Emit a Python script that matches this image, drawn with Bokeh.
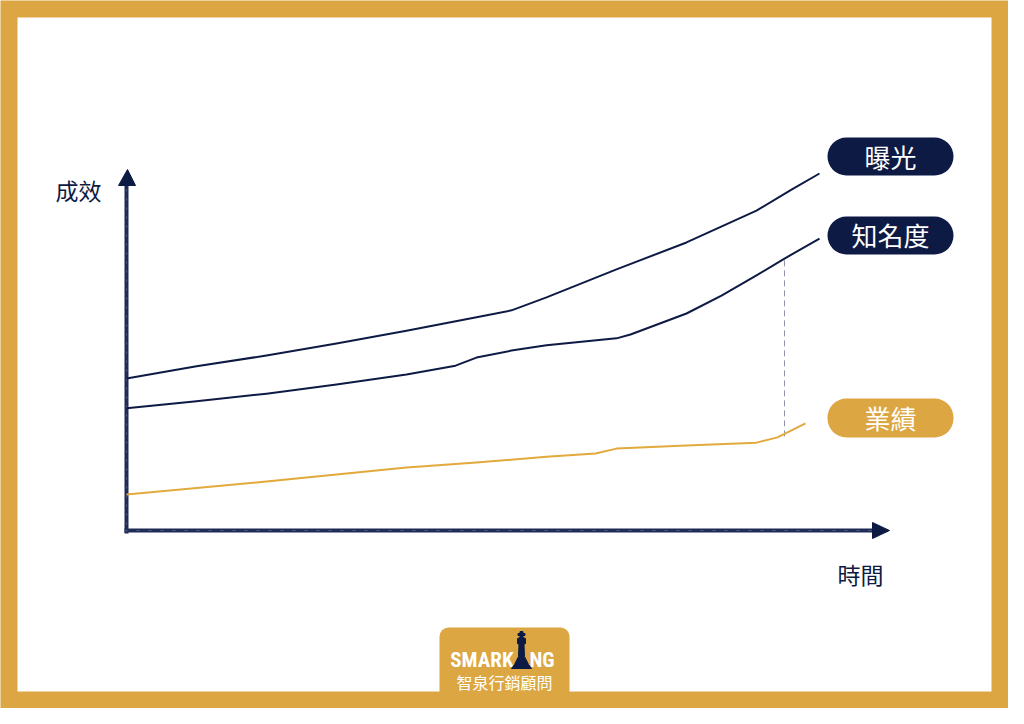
from bokeh.plotting import figure
from bokeh.models import Range1d, BoxAnnotation
from bokeh.core.properties import value
from bokeh.embed import file_html
from bokeh.resources import INLINE

# ---------------- data (time units, effect units) ----------------
series_names = ["曝光", "知名度", "業績"]

exposure_t = [0, 10, 20, 30, 40, 50, 55, 60, 70, 80, 90, 95, 99]
exposure_v = [43.4, 46.9, 50.0, 53.4, 57.1, 60.9, 62.9, 66.6, 74.6, 82.3, 91.4, 97.4, 102.0]

awareness_t = [0, 10, 20, 30, 40, 47, 50, 55, 60, 70, 72, 80, 85, 90, 94, 99]
awareness_v = [34.9, 36.9, 39.1, 41.7, 44.6, 47.1, 49.4, 51.4, 52.9, 54.9, 56.0, 62.0, 67.1, 72.9, 77.7, 83.4]

sales_t = [0, 20, 40, 50, 60, 67, 70, 80, 90, 93, 95, 97]
sales_v = [10.3, 14.0, 18.0, 19.4, 21.1, 22.0, 23.4, 24.3, 25.1, 26.6, 28.6, 30.6]

marker_t = 94.0          # dashed guide position
marker_range = [26.9, 78.0]

x_label = "時間"
y_label = "成效"
brand = "SMARK"
brand_tail = "NG"
brand_cn = "智泉行銷顧問"

# ---------------- layout helpers (image pixel -> data units) ----------------
OX, OY, SX, SY = 134.0, 538.0, 7.0, 3.5
def px(p):
    return (p - OX) / SX
def py(p):
    return (OY - p) / SY

NAVY = "#0d1a44"
AXIS = "#1f2c58"
GOLD = "#dca643"
LINEGOLD = "#e2a93c"
CJK = value("Noto Sans CJK TC")

W, H = 1008, 708
p = figure(width=W, height=H, output_backend="svg", toolbar_location=None,
           x_range=Range1d(px(8), px(8 + W)), y_range=Range1d(py(8 + H), py(8)),
           min_border=0, min_border_left=0, min_border_right=0,
           min_border_top=0, min_border_bottom=0)
p.axis.visible = False
p.grid.visible = False
p.outline_line_color = None
p.background_fill_color = GOLD
p.border_fill_color = GOLD

# white sheet
p.add_layout(BoxAnnotation(left=px(25), right=px(999), top=py(25), bottom=py(699),
                           fill_color="white", fill_alpha=1, line_color=None, level="underlay"))

# logo tab
p.add_layout(BoxAnnotation(left=px(447), right=px(577), top=py(635), bottom=py(705),
                           fill_color=GOLD, fill_alpha=1, line_color=None,
                           border_radius=(9, 9, 0, 0), level="underlay"))

# pill backgrounds
pills = [(145, 183, NAVY, 164), (224, 262, NAVY, 242), (406, 445, GOLD, 425)]
for top, bot, col, cy in pills:
    p.add_layout(BoxAnnotation(left=px(835), right=px(961), top=py(top), bottom=py(bot),
                               fill_color=col, fill_alpha=1, line_color=None,
                               border_radius=19, level="underlay"))

# ---------------- axes (hand-drawn look) ----------------
p.line([px(134), px(134)], [py(541), py(190)], line_color=AXIS, line_width=4)
p.line([px(134), px(134)], [py(541), py(190)], line_color="#6f7896", line_width=1,
       line_dash="2 7", line_alpha=0.6)
p.line([px(132), px(882)], [py(538), py(538)], line_color=AXIS, line_width=4)
p.line([px(132), px(882)], [py(538), py(538)], line_color="#6f7896", line_width=1,
       line_dash="3 9", line_alpha=0.6)
p.patch([px(126), px(135), px(143)], [py(193), py(177), py(193)], fill_color=NAVY, line_color=NAVY)
p.patch([px(880), px(897), px(880)], [py(530), py(538), py(546)], fill_color=NAVY, line_color=NAVY)

p.text(x=[px(86)], y=[py(197)], text=[y_label], text_font=CJK, text_font_size="23px",
       text_color=NAVY, text_align="center", text_baseline="middle")
p.text(x=[px(868)], y=[py(581)], text=[x_label], text_font=CJK, text_font_size="23px",
       text_color=NAVY, text_align="center", text_baseline="middle")

# ---------------- series ----------------
p.line([marker_t, marker_t], marker_range, line_color="#8c93ab",
       line_width=1, line_dash="6 4")
p.line(exposure_t, exposure_v, line_color=NAVY, line_width=2, line_join="round")
p.line(awareness_t, awareness_v, line_color=NAVY, line_width=2, line_join="round")
p.line(sales_t, sales_v, line_color=LINEGOLD, line_width=2, line_join="round")

# ---------------- pill labels ----------------
for (top, bot, col, cy), name in zip(pills, series_names):
    p.text(x=[px(898)], y=[py(cy)], text=[name], text_font=CJK, text_font_size="26px",
           text_color="white", text_align="center", text_baseline="middle")

# ---------------- logo ----------------
p.text(x=[px(521)], y=[py(667)], text=[brand], text_font=value("Roboto Condensed"),
       text_font_size="21px", text_font_style="bold", text_color="white",
       text_align="right", text_baseline="middle")
p.text(x=[px(537)], y=[py(667)], text=[brand_tail], text_font=value("Roboto Condensed"),
       text_font_size="21px", text_font_style="bold", text_color="white",
       text_align="left", text_baseline="middle")
kx = [527.5, 530.5, 530.5, 532.5, 532.5, 530.5, 530.5, 533, 533, 531.5, 532, 536, 539,
      519, 522, 526, 526.5, 525, 525, 527.5, 527.5, 525.5, 525.5, 527.5]
ky = [639, 639, 641, 641, 643, 643, 645, 646, 651, 652, 664, 672, 676,
      676, 672, 664, 652, 651, 646, 645, 643, 643, 641, 641]
p.patch([px(v) for v in kx], [py(v) for v in ky], fill_color=NAVY, line_color=NAVY)
p.text(x=[px(512)], y=[py(689)], text=[brand_cn], text_font=CJK, text_font_size="16px",
       text_color="white", text_align="center", text_baseline="middle")

open("out.html", "w").write(file_html(p, INLINE))
